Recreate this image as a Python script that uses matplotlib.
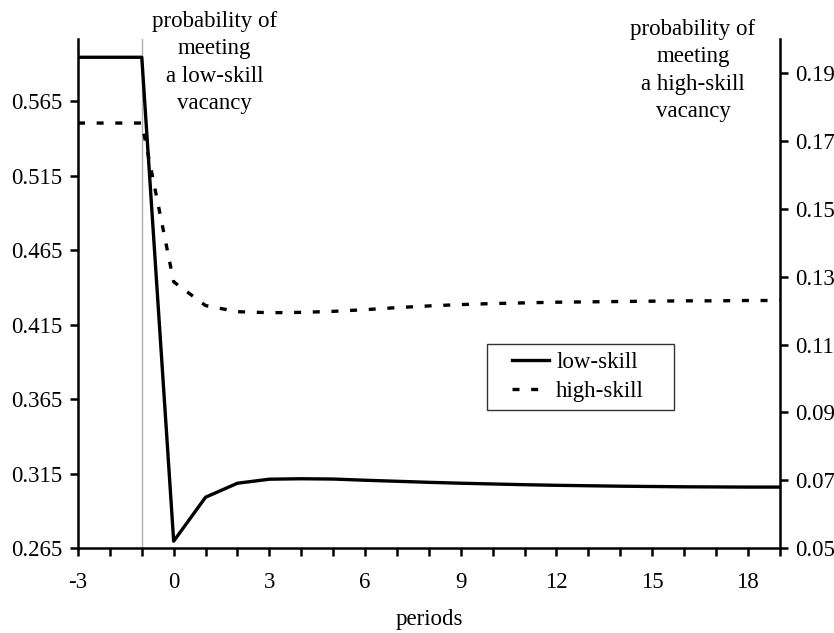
"""Matching probabilities for low- and high-skill vacancies after the shock."""

import matplotlib

matplotlib.use("Agg")
import matplotlib.pyplot as plt
from matplotlib.legend_handler import HandlerLine2D
from matplotlib.ticker import FixedLocator, FuncFormatter, MultipleLocator

plt.rcParams["font.family"] = ["Liberation Serif", "DejaVu Serif"]
plt.rcParams["font.size"] = 16.5

periods = list(range(-3, 20))
low_skill = [0.5945, 0.5945, 0.5945, 0.2697, 0.2992, 0.3086, 0.3113, 0.3116,
             0.3114, 0.3106, 0.3099, 0.3092, 0.3086, 0.3081, 0.3076, 0.3072,
             0.3069, 0.3066, 0.3064, 0.3062, 0.3061, 0.3060, 0.3060]
high_skill = [0.1753, 0.1753, 0.1753, 0.1285, 0.1215, 0.1197, 0.1194, 0.1195,
              0.1198, 0.1203, 0.1209, 0.1214, 0.1218, 0.1221, 0.1223, 0.1225,
              0.1226, 0.1227, 0.1228, 0.1229, 0.1229, 0.1230, 0.1230]
left_ticks = [0.265, 0.315, 0.365, 0.415, 0.465, 0.515, 0.565]
right_ticks = [0.05, 0.07, 0.09, 0.11, 0.13, 0.15, 0.17, 0.19]
shock_period = -1


class RightHandle(HandlerLine2D):
    """Legend handle drawn only in the right part of its slot (Excel-like padding)."""

    def create_artists(self, legend, orig_handle, xdescent, ydescent, width, height, fontsize, trans):
        shift = 0.31 * width
        return super().create_artists(legend, orig_handle, xdescent - shift, ydescent,
                                      width - shift, height, fontsize, trans)


fig = plt.figure(figsize=(8.34, 6.33), dpi=100)
ax = fig.add_axes([0.0935, 0.134, 0.8415, 0.804])
ax2 = ax.twinx()

ax.axvline(shock_period, color="#b0b0b0", lw=1.0, zorder=1)
(l1,) = ax.plot(periods, low_skill, color="black", lw=2.4, label="low-skill", zorder=3)
(l2,) = ax2.plot(periods, high_skill, color="black", lw=2.4, label="high-skill",
                 dashes=(2.1, 3.5), dash_capstyle="butt")

ax.set_xlim(-3, 19)
ax.set_ylim(0.265, 0.6066)
ax2.set_ylim(0.05, 0.20)

ax.xaxis.set_major_locator(MultipleLocator(1))
ax.xaxis.set_major_formatter(FuncFormatter(lambda v, _: f"{int(round(v))}" if round(v) % 3 == 0 else ""))
ax.yaxis.set_major_locator(FixedLocator(left_ticks))
ax.yaxis.set_major_formatter(FuncFormatter(lambda v, _: f"{v:.3f}"))
ax2.yaxis.set_major_locator(FixedLocator(right_ticks))
ax2.yaxis.set_major_formatter(FuncFormatter(lambda v, _: f"{v:.2f}"))

for a in (ax, ax2):
    a.spines["top"].set_visible(False)
    for s in ("left", "right", "bottom"):
        a.spines[s].set_linewidth(1.8)
    a.tick_params(direction="out", length=6, width=1.8, pad=5)
ax.spines["right"].set_visible(False)
ax2.spines["left"].set_visible(False)
ax2.spines["bottom"].set_visible(False)
ax.tick_params(axis="x", pad=11)

ax.set_xlabel("periods", labelpad=12)

fig.text(0.257, 0.983, "probability of\nmeeting\na low-skill\nvacancy",
         ha="center", va="top", linespacing=1.4)
fig.text(0.831, 0.970, "probability of\nmeeting\na high-skill\nvacancy",
         ha="center", va="top", linespacing=1.4)

leg = ax2.legend([l1, l2], ["low-skill", "high-skill"], loc="upper left",
                 bbox_to_anchor=(0.583, 0.269, 0.266, 0.132), mode="expand",
                 frameon=True, fancybox=False, handlelength=2.36, handletextpad=0.3,
                 labelspacing=0.35, borderpad=0.35, borderaxespad=0,
                 handler_map={l1: RightHandle(), l2: RightHandle()})
leg.get_frame().set_edgecolor("black")
leg.get_frame().set_linewidth(1.0)

fig.savefig("out.png", dpi=100)
